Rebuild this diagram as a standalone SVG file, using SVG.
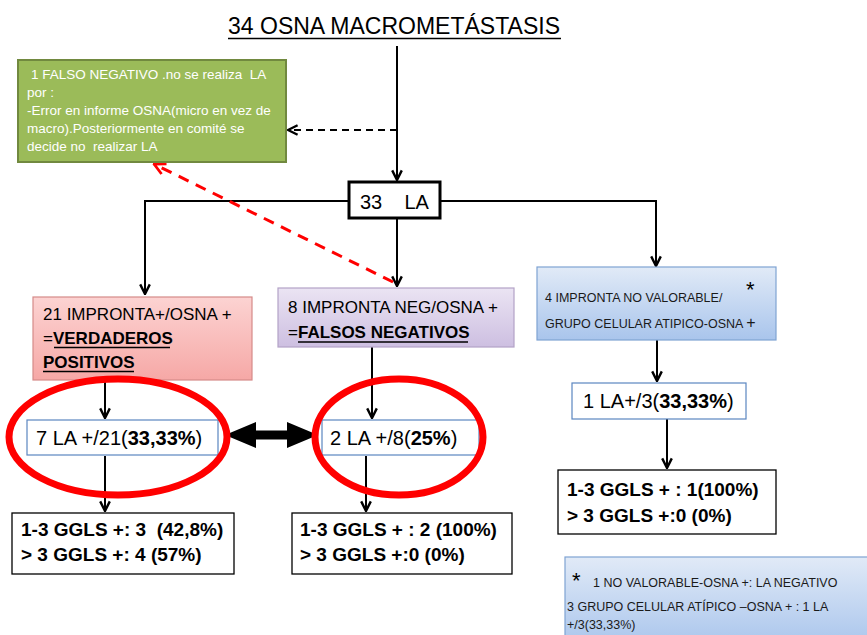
<svg xmlns="http://www.w3.org/2000/svg" width="867" height="635" viewBox="0 0 867 635">
  <style>
    text { font-family: "Liberation Sans", Arial, sans-serif; fill: #000; }
    .t17 { font-size: 17px; }
    .t20 { font-size: 20px; }
    .gg { font-size: 19px; font-weight: bold; }
    .sm { font-size: 12.5px; fill: #1a1a1a; }
    .wh { font-size: 13.5px; fill: #ffffff; }
    .b { font-weight: bold; }
    .conn { fill: none; stroke: #000; stroke-width: 2; }
    .res { fill: #ffffff; stroke: #5b86c0; stroke-width: 1.2; }
    .gbox { fill: #ffffff; stroke: #000; stroke-width: 1.3; }
    .ring { fill: none; stroke: #ff0000; stroke-width: 7; }
  </style>
  <defs>
    <marker id="chev" viewBox="0 0 10 10" refX="9" refY="5" markerWidth="12" markerHeight="12" markerUnits="userSpaceOnUse" orient="auto">
      <path d="M1,1 L9,5 L1,9" fill="none" stroke="#000" stroke-width="2"/>
    </marker>
    <marker id="chevRed" viewBox="0 0 10 10" refX="9" refY="5" markerWidth="14" markerHeight="14" markerUnits="userSpaceOnUse" orient="auto">
      <path d="M1,1 L9,5 L1,9" fill="none" stroke="#ff0000" stroke-width="2"/>
    </marker>
    <linearGradient id="gPink" x1="0" y1="0" x2="0" y2="1">
      <stop offset="0" stop-color="#fcd3d2"/>
      <stop offset="1" stop-color="#f6a8a6"/>
    </linearGradient>
    <linearGradient id="gPurple" x1="0" y1="0" x2="0" y2="1">
      <stop offset="0" stop-color="#ebe4f3"/>
      <stop offset="1" stop-color="#cdbfe1"/>
    </linearGradient>
    <linearGradient id="gBlue" x1="0" y1="0" x2="0" y2="1">
      <stop offset="0" stop-color="#e1eaf7"/>
      <stop offset="1" stop-color="#a9c5ec"/>
    </linearGradient>
  </defs>

  <!-- title -->
  <g id="title">
    <text x="228" y="34" font-size="23" textLength="332" lengthAdjust="spacingAndGlyphs">34 OSNA MACROMETÁSTASIS</text>
    <line x1="228" y1="38.5" x2="561" y2="38.5" stroke="#000" stroke-width="1.5"/>
  </g>

  <!-- connectors -->
  <g id="connectors">
    <line class="conn" x1="397" y1="46" x2="397" y2="180" marker-end="url(#chev)"/>
    <line class="conn" x1="397" y1="130" x2="288" y2="130" stroke-dasharray="7,5" marker-end="url(#chev)"/>
    <polyline class="conn" points="348,201 145,201 145,294" marker-end="url(#chev)"/>
    <polyline class="conn" points="441,201 656,201 656,266" marker-end="url(#chev)"/>
    <line class="conn" x1="397" y1="219" x2="397" y2="286" marker-end="url(#chev)"/>
    <line x1="393" y1="282" x2="154" y2="164" fill="none" stroke="#ff0000" stroke-width="3" stroke-dasharray="11,8" marker-end="url(#chevRed)"/>
    <line class="conn" x1="105" y1="380" x2="105" y2="418" marker-end="url(#chev)"/>
    <line class="conn" x1="372" y1="347" x2="372" y2="418" marker-end="url(#chev)"/>
    <line class="conn" x1="657" y1="340" x2="657" y2="381" marker-end="url(#chev)"/>
    <line class="conn" x1="105" y1="456" x2="105" y2="511" marker-end="url(#chev)"/>
    <line class="conn" x1="366" y1="456" x2="366" y2="511" marker-end="url(#chev)"/>
    <line class="conn" x1="667" y1="419" x2="667" y2="468" marker-end="url(#chev)"/>
    <polygon points="225,435 256,422 256,430.5 287,430.5 287,422 318,435 287,448 287,439.5 256,439.5 256,448" fill="#000"/>
  </g>

  <g id="falso-negativo">
    <rect x="18" y="60" width="268" height="102" fill="#9bbb59" stroke="#71893f" stroke-width="2"/>
    <text class="wh" x="31" y="79" xml:space="preserve">1 FALSO NEGATIVO .no se realiza  LA</text>
    <text class="wh" x="27" y="97">por :</text>
    <text class="wh" x="27" y="115">-Error en informe OSNA(micro en vez de</text>
    <text class="wh" x="27" y="133">macro).Posteriormente en comité se</text>
    <text class="wh" x="27" y="151" xml:space="preserve">decide no  realizar LA</text>
  </g>

  <g id="la33">
    <rect x="349" y="182" width="91" height="36" fill="#fff" stroke="#000" stroke-width="3"/>
    <text class="t20" x="360" y="209" xml:space="preserve">33    LA</text>
  </g>

  <g id="verdaderos-positivos">
    <rect x="33" y="297" width="219" height="83" fill="url(#gPink)" stroke="#d58b89" stroke-width="1.2"/>
    <text class="t17" x="43" y="320">21 IMPRONTA+/OSNA +</text>
    <text class="t17" x="43" y="344">=<tspan class="b">VERDADEROS</tspan></text>
    <line x1="54" y1="347.5" x2="170" y2="347.5" stroke="#000" stroke-width="1.5"/>
    <text class="t17 b" x="43" y="368">POSITIVOS</text>
    <line x1="43" y1="371.5" x2="134" y2="371.5" stroke="#000" stroke-width="1.5"/>
  </g>

  <g id="falsos-negativos">
    <rect x="278" y="288" width="236" height="59" fill="url(#gPurple)" stroke="#b3a2c7" stroke-width="1.2"/>
    <text class="t17" x="288" y="313">8 IMPRONTA NEG/OSNA +</text>
    <text class="t17" x="288" y="338">=<tspan class="b">FALSOS NEGATIVOS</tspan></text>
    <line x1="298" y1="342" x2="468" y2="342" stroke="#000" stroke-width="1.5"/>
  </g>

  <g id="no-valorable">
    <rect x="537" y="267" width="239" height="73" fill="url(#gBlue)" stroke="#7fa3d3" stroke-width="1.2"/>
    <text class="sm" x="545" y="302">4 IMPRONTA NO VALORABLE/</text>
    <text x="746" y="297" font-size="22">*</text>
    <text class="sm" x="545" y="328">GRUPO CELULAR ATIPICO-OSNA <tspan font-size="16">+</tspan></text>
  </g>

  <g id="la-vp">
    <rect class="res" x="27" y="420" width="191" height="35"/>
    <text class="t20" x="36" y="445">7 LA +/21(<tspan class="b">33,33%</tspan>)</text>
  </g>

  <g id="la-fn">
    <rect class="res" x="322" y="420" width="157" height="35"/>
    <text class="t20" x="330" y="445">2 LA +/8(<tspan class="b">25%</tspan>)</text>
  </g>

  <g id="la-nv">
    <rect class="res" x="572" y="383" width="174" height="36"/>
    <text class="t20" x="583" y="408">1 LA+/3(<tspan class="b">33,33%</tspan>)</text>
  </g>

  <!-- highlight rings -->
  <g id="rings">
    <ellipse class="ring" cx="118" cy="437" rx="109" ry="58"/>
    <ellipse class="ring" cx="399" cy="437" rx="84" ry="58"/>
  </g>

  <g id="ggls-vp">
    <rect class="gbox" x="12" y="513" width="222" height="61"/>
    <text class="gg" x="21" y="536" xml:space="preserve">1-3 GGLS +: 3  (42,8%)</text>
    <text class="gg" x="21" y="561">&gt; 3 GGLS +: 4 (57%)</text>
  </g>

  <g id="ggls-fn">
    <rect class="gbox" x="292" y="513" width="220" height="61"/>
    <text class="gg" x="300" y="536">1-3 GGLS + : 2 (100%)</text>
    <text class="gg" x="300" y="561">&gt; 3 GGLS +:0 (0%)</text>
  </g>

  <g id="ggls-nv">
    <rect class="gbox" x="558" y="470" width="218" height="64"/>
    <text class="gg" x="567" y="496">1-3 GGLS + : 1(100%)</text>
    <text class="gg" x="567" y="522">&gt; 3 GGLS +:0 (0%)</text>
  </g>

  <g id="nota">
    <rect x="565" y="557" width="310" height="90" fill="url(#gBlue)" stroke="#7fa3d3" stroke-width="1.2"/>
    <text x="572" y="588" font-size="22">*</text>
    <text class="sm" x="593" y="587">1 NO VALORABLE-OSNA +: LA NEGATIVO</text>
    <text class="sm" x="567" y="611">3 GRUPO CELULAR ATÍPICO –OSNA + : 1 LA</text>
    <text class="sm" x="567" y="629">+/3(33,33%)</text>
  </g>
</svg>
